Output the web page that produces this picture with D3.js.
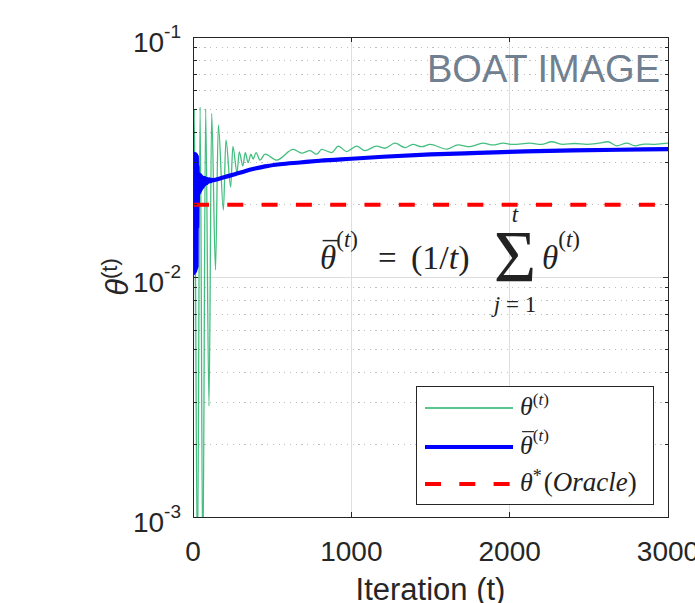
<!DOCTYPE html>
<html>
<head>
<meta charset="utf-8">
<script src="https://cdn.jsdelivr.net/npm/d3@7"></script>
<style>
  body { margin: 0; background: #fff; }
  svg { display: block; }
</style>
</head>
<body>
<svg id="chart" width="695" height="603"></svg>
<script>
// values
const iterTicks = [0, 1000, 2000, 3000];
const decadeTicks = [1e-3, 1e-2, 1e-1];
const decadeExps = ["-3", "-2", "-1"];

// theta^(t), green
const thetaIter = [0, 8, 28, 45, 62, 80, 101, 118, 142, 160,
  192, 208, 238, 252, 278, 292, 315, 330, 348, 366,
  380, 398, 423, 455, 529, 633, 687, 739, 781, 813,
  876, 918, 971, 1034, 1086, 1160, 1210, 1276, 1339, 1389,
  1444, 1497, 1602, 1674, 1749, 1832, 1895, 1958, 2021, 2128,
  2200, 2265, 2337, 2410, 2487, 2560, 2621, 2676, 2739, 2792,
  2850, 2905, 2950, 3000];
const thetaValue = [0.0005, 0.0500, 0.0006, 0.0510, 0.0006, 0.0500, 0.0029, 0.0480, 0.0107, 0.0430,
  0.0190, 0.0373, 0.0237, 0.0350, 0.0272, 0.0332, 0.0290, 0.0330, 0.0300, 0.0325,
  0.0310, 0.0330, 0.0307, 0.0325, 0.0307, 0.0340, 0.0328, 0.0336, 0.0325, 0.0340,
  0.0330, 0.0351, 0.0333, 0.0351, 0.0336, 0.0351, 0.0344, 0.0361, 0.0346, 0.0357,
  0.0349, 0.0357, 0.0341, 0.0355, 0.0349, 0.0361, 0.0355, 0.0361, 0.0357, 0.0361,
  0.0357, 0.0366, 0.0357, 0.0360, 0.0357, 0.0361, 0.0366, 0.0352, 0.0361, 0.0352,
  0.0358, 0.0357, 0.0359, 0.0361];

// running mean, blue
const avgIter = [0, 2, 4, 6, 8, 10, 12, 14, 16, 18, 20, 22, 24,
  26, 28, 30, 33, 36, 39, 42, 45, 48, 51, 54, 57, 60,
  64, 68, 72, 76, 80, 86, 92, 98, 104, 112, 120, 130, 140,
  160, 202, 265, 328, 392, 455, 550, 676, 800,
  1000, 1200, 1500, 1800, 2100, 2400, 2700, 3000];
const avgValue = [0.0327, 0.0104, 0.0327, 0.0104, 0.0326, 0.0105, 0.0325, 0.0106, 0.0324, 0.0108, 0.0322, 0.0110, 0.0318,
  0.0160, 0.0290, 0.0200, 0.0270, 0.0222, 0.0268, 0.0226, 0.0266, 0.0230, 0.0263, 0.0234, 0.0261, 0.0237,
  0.0259, 0.0240, 0.0258, 0.0244, 0.0257, 0.0246, 0.0256, 0.0249, 0.0255, 0.0251, 0.0254, 0.0253, 0.0254,
  0.0256, 0.0261, 0.0268, 0.0276, 0.0283, 0.0289, 0.0295, 0.0300, 0.0305,
  0.0311, 0.0317, 0.0324, 0.0329, 0.0334, 0.0337, 0.0339, 0.0341];

const oracleValue = 0.02;

const width = 695;
const height = 603;
const margin = {top: 37, right: 27, bottom: 86, left: 193};
const axisColor = "#262626";
const greenColor = "#23b36a";
const blueColor = "#0000ff";
const redColor = "#ff0000";
const sansFont = "'Liberation Sans', Arial, sans-serif";
const serifFont = "'Liberation Serif', 'Times New Roman', serif";

function make_scales() {
  return {
    x: d3.scaleLinear().domain([0, 3000]).range([margin.left, width - margin.right]),
    y: d3.scaleLog().domain([1e-3, 1e-1]).range([height - margin.bottom, margin.top])
  };
}

function isDecade(v) {
  return decadeTicks.some(d => Math.abs(v - d) / d < 1e-6);
}

function draw_grid(svg, scales) {
  let g = svg.append("g").attr("shape-rendering", "crispEdges");
  let minor = scales.y.ticks().filter(v => !isDecade(v));
  let x0 = scales.x.range()[0], x1 = scales.x.range()[1];

  g.selectAll(".minor").data(minor).enter()
    .append("line")
    .attr("class", "minor")
    .attr("x1", x0).attr("x2", x1)
    .attr("y1", d => scales.y(d)).attr("y2", d => scales.y(d))
    .attr("stroke", "#bdbdbd")
    .attr("stroke-dasharray", "1.2,4.5");

  g.selectAll(".majory").data(decadeTicks.slice(1, -1)).enter()
    .append("line")
    .attr("x1", x0).attr("x2", x1)
    .attr("y1", d => scales.y(d)).attr("y2", d => scales.y(d))
    .attr("stroke", "#dedede");

  g.selectAll(".majorx").data(iterTicks.slice(1, -1)).enter()
    .append("line")
    .attr("x1", d => scales.x(d)).attr("x2", d => scales.x(d))
    .attr("y1", scales.y.range()[0]).attr("y2", scales.y.range()[1])
    .attr("stroke", "#dedede");
}

function draw_lines(svg, scales) {
  svg.append("clipPath").attr("id", "plotclip")
    .append("rect")
    .attr("x", margin.left).attr("y", margin.top)
    .attr("width", width - margin.left - margin.right)
    .attr("height", height - margin.top - margin.bottom);

  let g = svg.append("g").attr("clip-path", "url(#plotclip)");

  let line = d3.line()
    .x(d => scales.x(d[0]))
    .y(d => scales.y(d[1]))
    .curve(d3.curveMonotoneX);

  g.append("path")
    .datum(d3.zip(thetaIter, thetaValue))
    .attr("d", line)
    .attr("fill", "none")
    .attr("stroke", greenColor)
    .attr("stroke-opacity", 0.85)
    .attr("stroke-width", 1.3);

  g.append("path")
    .datum(d3.zip(avgIter, avgValue))
    .attr("d", line)
    .attr("fill", "none")
    .attr("stroke", blueColor)
    .attr("stroke-width", 4.2)
    .attr("stroke-linejoin", "round");

  g.append("line")
    .attr("x1", scales.x(0)).attr("x2", scales.x(3000))
    .attr("y1", scales.y(oracleValue)).attr("y2", scales.y(oracleValue))
    .attr("stroke", redColor)
    .attr("stroke-width", 4)
    .attr("stroke-dasharray", "16,18.3");
}

function draw_axes(svg, scales) {
  let x0 = scales.x.range()[0], x1 = scales.x.range()[1];
  let y0 = scales.y.range()[0], y1 = scales.y.range()[1];
  let g = svg.append("g").attr("shape-rendering", "crispEdges");

  g.append("rect")
    .attr("x", x0).attr("y", y1)
    .attr("width", x1 - x0).attr("height", y0 - y1)
    .attr("fill", "none")
    .attr("stroke", axisColor)
    .attr("stroke-width", 1);

  // inside ticks, left and right, log scale
  let yt = scales.y.ticks();
  [[x0, 1], [x1, -1]].forEach(([xe, dir]) => {
    g.selectAll(null).data(yt).enter()
      .append("line")
      .attr("x1", xe).attr("x2", d => xe + dir * (isDecade(d) ? 5 : 3.5))
      .attr("y1", d => scales.y(d)).attr("y2", d => scales.y(d))
      .attr("stroke", axisColor);
  });
  [[y0, -1], [y1, 1]].forEach(([ye, dir]) => {
    g.selectAll(null).data(iterTicks).enter()
      .append("line")
      .attr("x1", d => scales.x(d)).attr("x2", d => scales.x(d))
      .attr("y1", ye).attr("y2", ye + dir * 5)
      .attr("stroke", axisColor);
  });

  // tick labels
  svg.append("g").selectAll("text").data(iterTicks).enter()
    .append("text")
    .attr("x", d => scales.x(d))
    .attr("y", y0 + 44)
    .attr("text-anchor", "middle")
    .attr("font-family", sansFont)
    .attr("font-size", 28)
    .attr("fill", axisColor)
    .text(d => d);

  let yl = svg.append("g").selectAll("text").data(decadeTicks).enter()
    .append("text")
    .attr("x", x0 - 12)
    .attr("y", d => scales.y(d) + 15)
    .attr("text-anchor", "end")
    .attr("font-family", sansFont)
    .attr("fill", axisColor);
  yl.append("tspan").attr("font-size", 28).text("10");
  yl.append("tspan").attr("font-size", 19).attr("dy", -14.5).text((d, i) => decadeExps[i]);

  // axis titles
  svg.append("text")
    .attr("x", (x0 + x1) / 2)
    .attr("y", 600)
    .attr("text-anchor", "middle")
    .attr("font-family", sansFont)
    .attr("font-size", 31)
    .attr("fill", axisColor)
    .text("Iteration (t)");

  let ylab = svg.append("text")
    .attr("transform", `translate(128, ${(y0 + y1) / 2}) rotate(-90)`)
    .attr("text-anchor", "middle")
    .attr("font-family", sansFont)
    .attr("fill", axisColor);
  ylab.append("tspan").attr("font-size", 31).attr("font-style", "italic").text("θ");
  ylab.append("tspan").attr("font-size", 22).attr("dy", -11).text("(t)");
}

// lays out a row of math pieces, left to right, returns the end x
function math_text(g, x, y, parts) {
  parts.forEach(p => {
    if (p.gap) { x += p.gap; return; }
    let t = g.append("text")
      .attr("x", x)
      .attr("y", y - (p.raise || 0))
      .attr("font-family", serifFont)
      .attr("font-size", p.size)
      .attr("font-style", p.it ? "italic" : "normal")
      .attr("fill", "#222")
      .text(p.s);
    let w = t.node().getComputedTextLength();
    if (p.bar) {
      let yb = y - p.size * 0.86;
      g.append("line")
        .attr("x1", x + p.size * 0.08).attr("x2", x + w + p.size * 0.05)
        .attr("y1", yb).attr("y2", yb)
        .attr("stroke", "#222")
        .attr("stroke-width", p.size * 0.045);
    }
    x += w;
  });
  return x;
}

function sup_t(size, raise) {
  return [
    {s: "(", size: size, raise: raise},
    {s: "t", size: size, raise: raise, it: true},
    {s: ")", size: size, raise: raise}
  ];
}

function draw_formula(svg) {
  let g = svg.append("g");
  math_text(g, 320, 269, [{s: "θ", size: 33, it: true, bar: true}].concat(sup_t(23, 22)));
  math_text(g, 378, 269, [{s: "=", size: 33}]);
  math_text(g, 411, 269, [
    {s: "(1/", size: 34}, {s: "t", size: 34, it: true}, {s: ")", size: 34}
  ]);
  g.append("text")
    .attr("x", 515).attr("y", 282)
    .attr("text-anchor", "middle")
    .attr("font-family", serifFont)
    .attr("font-size", 73)
    .attr("fill", "#222")
    .text("Σ");
  g.append("text")
    .attr("x", 515).attr("y", 222)
    .attr("text-anchor", "middle")
    .attr("font-family", serifFont)
    .attr("font-style", "italic")
    .attr("font-size", 23)
    .attr("fill", "#222")
    .text("t");
  let lim = g.append("text")
    .attr("x", 515).attr("y", 312)
    .attr("text-anchor", "middle")
    .attr("font-family", serifFont)
    .attr("font-size", 23)
    .attr("fill", "#222");
  lim.append("tspan").attr("font-style", "italic").text("j");
  lim.append("tspan").text(" = 1");
  math_text(g, 542, 269, [{s: "θ", size: 33, it: true}].concat(sup_t(23, 22)));

  svg.append("text")
    .attr("x", 660).attr("y", 82)
    .attr("text-anchor", "end")
    .attr("font-family", sansFont)
    .attr("font-size", 38)
    .attr("fill", "#708090")
    .text("BOAT IMAGE");
}

function draw_legend(svg) {
  let g = svg.append("g");
  g.append("rect")
    .attr("x", 416).attr("y", 386)
    .attr("width", 237).attr("height", 118)
    .attr("fill", "#fff")
    .attr("stroke", axisColor)
    .attr("stroke-width", 1)
    .attr("shape-rendering", "crispEdges");

  let rows = [
    {y: 408, color: greenColor, w: 1.3, dash: null},
    {y: 447, color: blueColor, w: 4.2, dash: null},
    {y: 484, color: redColor, w: 4, dash: "16,18.3"}
  ];
  g.selectAll(".key").data(rows).enter()
    .append("line")
    .attr("x1", 425).attr("x2", 513)
    .attr("y1", d => d.y).attr("y2", d => d.y)
    .attr("stroke", d => d.color)
    .attr("stroke-width", d => d.w)
    .attr("stroke-dasharray", d => d.dash);

  math_text(g, 520, 415, [{s: "θ", size: 26, it: true}].concat(sup_t(17, 10)));
  math_text(g, 520, 454, [{s: "θ", size: 26, it: true, bar: true}].concat(sup_t(17, 13)));
  math_text(g, 520, 491, [
    {s: "θ", size: 26, it: true},
    {s: "*", size: 18, raise: 9},
    {gap: 2},
    {s: "(", size: 27},
    {s: "Oracle", size: 27, it: true},
    {s: ")", size: 27}
  ]);
}

function draw_chart() {
  let svg = d3.select("#chart");
  let scales = make_scales();
  draw_grid(svg, scales);
  draw_lines(svg, scales);
  draw_axes(svg, scales);
  draw_formula(svg);
  draw_legend(svg);
}

draw_chart();
</script>
</body>
</html>
